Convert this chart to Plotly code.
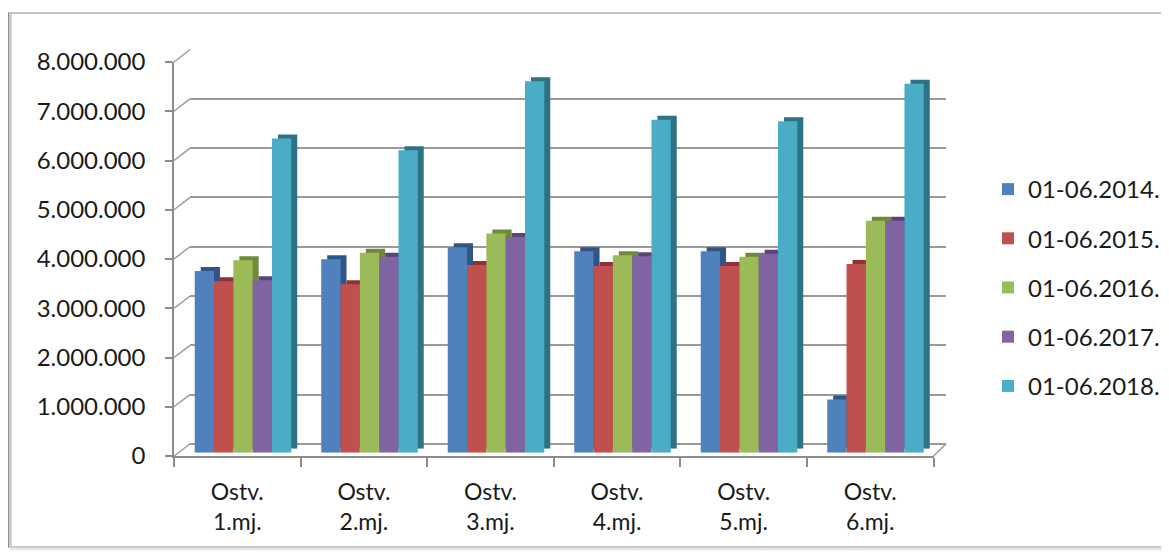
import plotly.graph_objects as go

# ---- data ----
categories = ["Ostv.<br>1.mj.", "Ostv.<br>2.mj.", "Ostv.<br>3.mj.",
              "Ostv.<br>4.mj.", "Ostv.<br>5.mj.", "Ostv.<br>6.mj."]
series_names = ["01-06.2014.", "01-06.2015.", "01-06.2016.", "01-06.2017.", "01-06.2018."]
s2014 = [3690000, 3930000, 4170000, 4090000, 4090000, 1080000]
s2015 = [3480000, 3420000, 3810000, 3790000, 3790000, 3830000]
s2016 = [3910000, 4060000, 4450000, 4010000, 3980000, 4710000]
s2017 = [3500000, 3980000, 4380000, 3990000, 4040000, 4710000]
s2018 = [6380000, 6140000, 7540000, 6760000, 6730000, 7490000]
series_values = [s2014, s2015, s2016, s2017, s2018]
y_ticks = [0, 1000000, 2000000, 3000000, 4000000, 5000000, 6000000, 7000000, 8000000]

front_colors = ["#4f81bd", "#c0504d", "#9bbb59", "#8064a2", "#4bacc6"]
side_colors = ["#2f5687", "#8e3330", "#6f8a38", "#5a4478", "#2e7385"]

W, H = 1169, 554
OX, OY = 8, 8          # page offset of the figure (default body margin)
FONT = "Lato"
YMAX = 8000000


def px_x(a, b):
    return [(a - OX) / W, (b - OX) / W]


def px_y(bottom, top):
    return [(H - (bottom - OY)) / H, (H - (top - OY)) / H]


def pxx(a):
    return (a - OX) / W


def pxy(a):
    return (H - (a - OY)) / H


front_xd = px_x(174, 933.5)
front_yd = px_y(456, 62)
back_xd = px_x(190, 946)
back_yd = px_y(444, 49.5)
bar_xd = px_x(179.75, 938.75)
bar_yd = px_y(452.7, 58.7)
sh_xd = px_x(185.75, 944.75)
sh_yd = px_y(448.7, 54.7)

fig = go.Figure()

# invisible helpers so the axis pairs are created
fig.add_trace(go.Scatter(x=categories, y=[0] * len(categories), mode="markers",
                         marker=dict(opacity=0), showlegend=False, hoverinfo="skip",
                         xaxis="x", yaxis="y"))
fig.add_trace(go.Scatter(x=[0.5], y=[0], mode="markers",
                         marker=dict(opacity=0), showlegend=False, hoverinfo="skip",
                         xaxis="x2", yaxis="y2"))

# depth (side/top) faces
for name, vals, c in zip(series_names, series_values, side_colors):
    fig.add_trace(go.Bar(x=categories, y=vals, name=name, marker=dict(color=c, line=dict(width=0)),
                         showlegend=False, hoverinfo="skip", xaxis="x3", yaxis="y3"))

# front faces
for name, vals, c in zip(series_names, series_values, front_colors):
    fig.add_trace(go.Bar(x=categories, y=vals, name=name, legendgroup=name,
                         marker=dict(color=c, line=dict(width=0)),
                         xaxis="x4", yaxis="y4"))

axis_gray = "#8c8c8c"
grid_gray = "#9a9a9a"

hidden = dict(showgrid=False, zeroline=False, showticklabels=False, ticks="", showline=False)

fig.update_layout(
    width=W, height=H,
    margin=dict(l=0, r=0, t=0, b=0, autoexpand=False),
    paper_bgcolor="white", plot_bgcolor="rgba(0,0,0,0)",
    separators=",.",
    barmode="group", bargap=0.237, bargroupgap=0,
    font=dict(family=FONT, size=24, color="#1a1a1a"),
    xaxis=dict(domain=front_xd, anchor="y", type="category", categoryarray=categories,
               categoryorder="array", range=[-0.5, 5.5],
               showline=True, linecolor=axis_gray, linewidth=1.5,
               ticks="outside", ticklen=9, tickcolor=axis_gray, tickwidth=1.5,
               tickson="boundaries", showgrid=False, zeroline=False,
               tickfont=dict(family=FONT, size=23, color="#1a1a1a"), ticklabelstandoff=15),
    yaxis=dict(domain=front_yd, anchor="x", range=[0, YMAX], tickvals=y_ticks,
               tickformat=",d", showline=True, linecolor=axis_gray, linewidth=1.5,
               ticks="outside", ticklen=7, tickcolor=axis_gray, tickwidth=1.5,
               showgrid=False, zeroline=False,
               tickfont=dict(family=FONT, size=24, color="#1a1a1a"), ticklabelstandoff=15),
    xaxis2=dict(domain=back_xd, anchor="y2", range=[0, 1], **hidden),
    yaxis2=dict(domain=back_yd, anchor="x2", range=[0, YMAX], tickvals=y_ticks,
                showgrid=True, gridcolor=grid_gray, gridwidth=2,
                zeroline=True, zerolinecolor=grid_gray, zerolinewidth=2,
                showticklabels=False, ticks="", showline=False),
    xaxis3=dict(domain=sh_xd, anchor="y3", type="category", categoryarray=categories,
                categoryorder="array", range=[-0.5, 5.5], **hidden),
    yaxis3=dict(domain=sh_yd, anchor="x3", range=[0, YMAX], **hidden),
    xaxis4=dict(domain=bar_xd, anchor="y4", type="category", categoryarray=categories,
                categoryorder="array", range=[-0.5, 5.5], **hidden),
    yaxis4=dict(domain=bar_yd, anchor="x4", range=[0, YMAX], **hidden),
    legend=dict(x=pxx(988), xanchor="left", y=pxy(287.5), yanchor="middle",
                tracegroupgap=15, font=dict(family=FONT, size=24, color="#1a1a1a"),
                bgcolor="rgba(0,0,0,0)"),
)

shapes = []
# connectors between front axis ticks and back-wall gridlines
for v in y_ticks:
    yf = front_yd[0] + v / YMAX * (front_yd[1] - front_yd[0])
    yb = back_yd[0] + v / YMAX * (back_yd[1] - back_yd[0])
    shapes.append(dict(type="line", xref="paper", yref="paper",
                       x0=front_xd[0], y0=yf, x1=back_xd[0], y1=yb,
                       line=dict(color=grid_gray, width=1.5)))
# right floor edge
shapes.append(dict(type="line", xref="paper", yref="paper",
                   x0=front_xd[1], y0=front_yd[0], x1=back_xd[1], y1=back_yd[0],
                   line=dict(color=grid_gray, width=1.5)))
# chart frame
shapes.append(dict(type="rect", xref="paper", yref="paper",
                   x0=pxx(8.5), x1=1.02, y0=pxy(547), y1=pxy(13),
                   line=dict(color="#8a8a8a", width=1.2), layer="below"))
shapes.append(dict(type="line", xref="paper", yref="paper",
                   x0=pxx(10.5), x1=pxx(10.5), y0=pxy(547), y1=pxy(14),
                   line=dict(color="#c8c8c8", width=2.5), layer="below"))
shapes.append(dict(type="line", xref="paper", yref="paper",
                   x0=pxx(10), x1=1.0, y0=pxy(549), y1=pxy(549),
                   line=dict(color="#e6e6e6", width=2.5), layer="below"))
fig.update_layout(shapes=shapes)

fig.write_html("out.html")
